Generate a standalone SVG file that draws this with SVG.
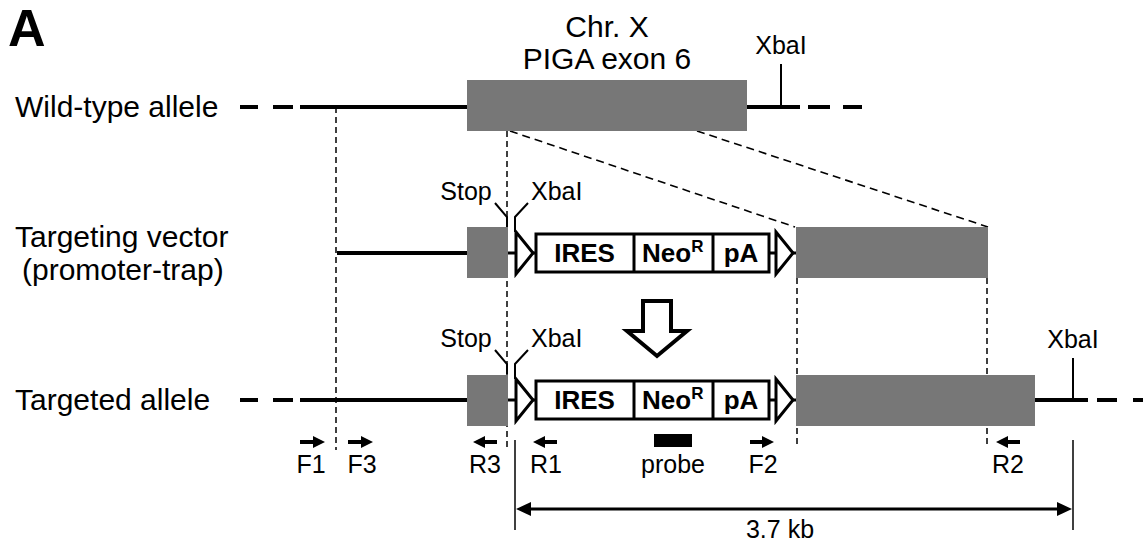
<svg xmlns="http://www.w3.org/2000/svg" width="1143" height="546" viewBox="0 0 1143 546">
<style>
text{font-family:"Liberation Sans",Arial,sans-serif;fill:#000}
.lbl{font-size:30px}
.sm{font-size:25px}
.pr{font-size:25px;text-anchor:middle}
.bx{font-size:26px;font-weight:bold}
.dna{stroke:#000;stroke-width:4;fill:none}
.ex{fill:#777777}
.cas{fill:#fff;stroke:#000;stroke-width:3}
.tick{stroke:#000;stroke-width:2;fill:none}
.vd{stroke:#000;stroke-width:1.5;stroke-dasharray:6 4;fill:none}
.dg{stroke:#000;stroke-width:1.6;stroke-dasharray:8 5;fill:none}
.prm{stroke:#000;stroke-width:4}
.thin{stroke:#000;stroke-width:1.5}
</style>
<defs>
<g id="cassette">
<line x1="508" y1="0" x2="516" y2="0" stroke="#000" stroke-width="3"/>
<polygon class="cas" points="516,-21 533,0 516,21"/>
<line x1="533" y1="0" x2="536" y2="0" stroke="#000" stroke-width="3"/>
<rect class="cas" x="536" y="-19" width="233" height="38"/>
<line x1="634" y1="-19" x2="634" y2="19" stroke="#000" stroke-width="3"/>
<line x1="713" y1="-19" x2="713" y2="19" stroke="#000" stroke-width="3"/>
<text class="bx" x="584.5" y="9" text-anchor="middle">IRES</text>
<text class="bx" x="642" y="9">Neo<tspan font-size="17" dy="-10">R</tspan></text>
<text class="bx" x="741" y="9" text-anchor="middle">pA</text>
<line x1="769" y1="0" x2="776" y2="0" stroke="#000" stroke-width="3"/>
<polygon class="cas" points="776,-21 793,0 776,21"/>
<line x1="793" y1="0" x2="797" y2="0" stroke="#000" stroke-width="3"/>
<polyline class="tick" points="495,-50 507,-36 507,-26"/>
<polyline class="tick" points="528,-50 515,-36 515,-21"/>
<text class="sm" x="466" y="-53" text-anchor="middle">Stop</text>
<text class="sm" x="531" y="-53">XbaI</text>
</g>
</defs>

<text x="8" y="46" font-size="52" font-weight="bold">A</text>

<g id="connectors">
<line class="vd" x1="336" y1="107" x2="336" y2="450"/>
<line class="vd" x1="507" y1="131" x2="507" y2="448"/>
<line class="vd" x1="797" y1="278" x2="797" y2="448"/>
<line class="vd" x1="987" y1="278" x2="987" y2="448"/>
<line class="dg" x1="510" y1="131" x2="795" y2="227"/>
<line class="dg" x1="697" y1="131" x2="988" y2="227"/>
</g>

<g id="wildtype">
<text class="lbl" x="15" y="117">Wild-type allele</text>
<line class="dna" x1="240" y1="107" x2="258" y2="107"/>
<line class="dna" x1="273" y1="107" x2="293" y2="107"/>
<line class="dna" x1="300" y1="107" x2="467" y2="107"/>
<rect class="ex" x="467" y="80" width="280" height="51"/>
<line class="dna" x1="747" y1="107" x2="800" y2="107"/>
<line class="dna" x1="808" y1="107" x2="830" y2="107"/>
<line class="dna" x1="843" y1="107" x2="862" y2="107"/>
<line class="tick" x1="781" y1="64" x2="781" y2="107"/>
<text class="sm" x="781" y="54" text-anchor="middle">XbaI</text>
<text x="607" y="37" font-size="30" text-anchor="middle">Chr. X</text>
<text x="607" y="69" font-size="30" text-anchor="middle">PIGA exon 6</text>
</g>

<g id="vector">
<text class="lbl" x="15" y="247">Targeting vector</text>
<text class="lbl" x="22" y="280">(promoter-trap)</text>
<line class="dna" x1="337" y1="253" x2="467" y2="253"/>
<rect class="ex" x="467" y="227" width="41" height="51"/>
<use href="#cassette" y="253"/>
<rect class="ex" x="796" y="227" width="192" height="51"/>
</g>

<g id="bigarrow">
<path d="M643,301 H671 V331 H687 L657,356 L627,331 H643 Z" fill="#fff" stroke="#000" stroke-width="4" stroke-linejoin="miter"/>
</g>

<g id="targeted">
<text class="lbl" x="15" y="410">Targeted allele</text>
<line class="dna" x1="240" y1="400" x2="258" y2="400"/>
<line class="dna" x1="273" y1="400" x2="293" y2="400"/>
<line class="dna" x1="300" y1="400" x2="467" y2="400"/>
<rect class="ex" x="467" y="375" width="41" height="51"/>
<use href="#cassette" y="400"/>
<rect class="ex" x="796" y="375" width="239" height="51"/>
<line class="dna" x1="1035" y1="400" x2="1088" y2="400"/>
<line class="dna" x1="1097" y1="400" x2="1117" y2="400"/>
<line class="dna" x1="1133" y1="400" x2="1150" y2="400"/>
<line class="tick" x1="1073" y1="358" x2="1073" y2="400"/>
<text class="sm" x="1073" y="348" text-anchor="middle">XbaI</text>
</g>

<g id="primers">
<g id="F1"><line class="prm" x1="300" y1="442" x2="315" y2="442"/><polygon points="313,436 325,442 313,448"/><text class="pr" x="311" y="473">F1</text></g>
<g id="F3"><line class="prm" x1="348" y1="442" x2="363" y2="442"/><polygon points="361,436 373,442 361,448"/><text class="pr" x="362" y="473">F3</text></g>
<g id="R3"><line class="prm" x1="497" y1="442" x2="483" y2="442"/><polygon points="485,436 473,442 485,448"/><text class="pr" x="485" y="473">R3</text></g>
<g id="R1"><line class="prm" x1="557" y1="442" x2="543" y2="442"/><polygon points="545,436 533,442 545,448"/><text class="pr" x="546" y="473">R1</text></g>
<g id="F2"><line class="prm" x1="750" y1="442" x2="764" y2="442"/><polygon points="762,436 774,442 762,448"/><text class="pr" x="763" y="473">F2</text></g>
<g id="R2"><line class="prm" x1="1020" y1="442" x2="1006" y2="442"/><polygon points="1008,436 996,442 1008,448"/><text class="pr" x="1008" y="473">R2</text></g>
<g id="probe"><rect x="654" y="434" width="38" height="13"/><text class="pr" x="673" y="473">probe</text></g>
</g>

<g id="size">
<line class="thin" x1="515" y1="440" x2="515" y2="530"/>
<line class="thin" x1="1073" y1="440" x2="1073" y2="530"/>
<line x1="528" y1="509" x2="1060" y2="509" stroke="#000" stroke-width="3"/>
<polygon points="516,509 531,502 531,516"/>
<polygon points="1072,509 1057,502 1057,516"/>
<text class="pr" x="780" y="538">3.7 kb</text>
</g>
</svg>
